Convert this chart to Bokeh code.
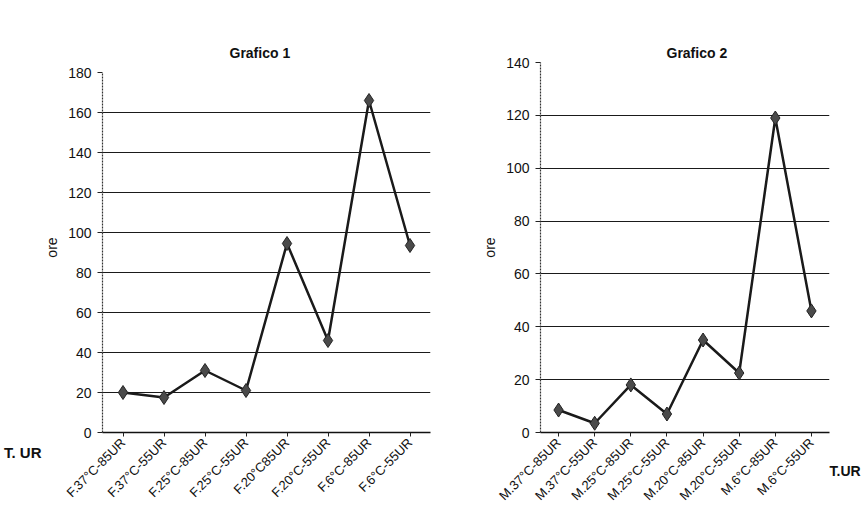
import math
from bokeh.plotting import figure
from bokeh.layouts import row
from bokeh.models import FactorRange, Range1d, FixedTicker, LinearAxis
from bokeh.embed import file_html
from bokeh.resources import INLINE

# ---- data ----
cats1 = ["F.37°C-85UR", "F.37°C-55UR", "F.25°C-85UR", "F.25°C-55UR",
         "F.20°C85UR", "F.20°C-55UR", "F.6°C-85UR", "F.6°C-55UR"]
vals1 = [20, 17.5, 31, 21, 94.5, 46, 166, 93.5]
yticks1 = [0, 20, 40, 60, 80, 100, 120, 140, 160, 180]
grid1 = [20, 40, 60, 80, 100, 120, 140, 160]

cats2 = ["M.37°C-85UR", "M.37°C-55UR", "M.25°C-85UR", "M.25°C-55UR",
         "M.20°C-85UR", "M.20°C-55UR", "M.6°C-85UR", "M.6°C-55UR"]
vals2 = [8.5, 3.5, 18, 7, 35, 22.5, 119, 46]
yticks2 = [0, 20, 40, 60, 80, 100, 120, 140]
grid2 = [20, 40, 60, 80, 100, 120]

FONT = "Liberation Sans"


def ur_axis(text, size):
    ax = LinearAxis(ticker=FixedTicker(ticks=[0]),
                    major_label_overrides={0: text})
    ax.axis_line_color = None
    ax.major_tick_out = 0
    ax.major_tick_in = 0
    ax.minor_tick_out = 0
    ax.minor_tick_in = 0
    ax.major_label_standoff = 0
    ax.major_label_text_font = FONT
    ax.major_label_text_font_style = "bold"
    ax.major_label_text_font_size = size
    ax.major_label_text_color = "#111111"
    return ax


def spacer_axis(h):
    ax = LinearAxis(ticker=FixedTicker(ticks=[]))
    ax.axis_line_color = None
    ax.major_tick_line_color = None
    ax.minor_tick_line_color = None
    ax.major_tick_out = h
    ax.major_tick_in = 0
    ax.minor_tick_out = 0
    ax.minor_tick_in = 0
    ax.major_label_standoff = 0
    ax.axis_label_standoff = 0
    return ax


def build(cats, vals, yticks, grid, width, ytop, bl, br,
          title, t_off, spacer):
    p = figure(width=width, height=528,
               x_range=FactorRange(factors=cats, range_padding=0),
               y_range=Range1d(yticks[0], ytop),
               output_backend="svg", toolbar_location=None,
               min_border_left=bl, min_border_right=br,
               min_border_top=62, min_border_bottom=96)
    p.outline_line_color = None
    p.background_fill_color = "white"
    p.border_fill_color = "white"

    p.title.text = title
    p.title.align = "left"
    p.title.vertical_align = "top"
    p.title.offset = t_off
    p.title.standoff = 0
    p.title.text_font = FONT
    p.title.text_font_style = "bold"
    p.title.text_font_size = "14px"
    p.title.text_color = "#111111"

    p.xgrid.visible = False
    p.ygrid.ticker = FixedTicker(ticks=grid)
    p.ygrid.grid_line_color = "#1a1a1a"
    p.ygrid.grid_line_width = 1.2

    p.line(x=cats, y=vals, line_color="#1a1a1a", line_width=2.5)
    p.scatter(x=cats, y=vals, marker="diamond", size=14,
              fill_color="#4a4a4a", line_color="#222222", line_width=1)

    ya = p.left[0]
    ya.ticker = FixedTicker(ticks=yticks)
    ya.bounds = (yticks[0], yticks[-1])
    ya.axis_label = "ore"
    ya.axis_label_text_font = FONT
    ya.axis_label_text_font_style = "normal"
    ya.axis_label_text_font_size = "14px"
    ya.axis_label_text_color = "#111111"
    ya.axis_label_standoff = 5
    ya.major_label_text_font = FONT
    ya.major_label_text_font_size = "14px"
    ya.major_label_text_color = "#111111"
    ya.major_label_standoff = 6
    ya.major_tick_out = 5
    ya.major_tick_in = 0
    ya.major_tick_line_color = "#222222"
    ya.axis_line_color = "#333333"
    ya.axis_line_dash = "2 1"
    ya.axis_line_width = 1.2

    xa = p.below[0]
    xa.major_label_orientation = math.pi / 4
    xa.major_label_text_font = FONT
    xa.major_label_text_font_size = "13px"
    xa.major_label_text_color = "#111111"
    xa.major_label_standoff = 4
    xa.major_tick_out = 4
    xa.major_tick_in = 0
    xa.major_tick_line_color = "#222222"
    xa.axis_line_color = "#111111"
    xa.axis_line_width = 1.5

    # empty guide between the frame and the title, to lift the title
    p.add_layout(spacer_axis(spacer), "above")
    return p


p1 = build(cats1, vals1, yticks1, grid1, 438, 185, 102, 8,
           "Grafico 1", 127, 33)
p1.add_layout(ur_axis("\n\nT. UR", "15px"), "left")

p2 = build(cats2, vals2, yticks2, grid2, 425, 140, 102, 25,
           "Grafico  2", 126, 35)
p2.add_layout(ur_axis("\n\n\n\nT.UR", "14px"), "right")

layout = row(p1, p2)
open("out.html", "w").write(file_html(layout, INLINE))
